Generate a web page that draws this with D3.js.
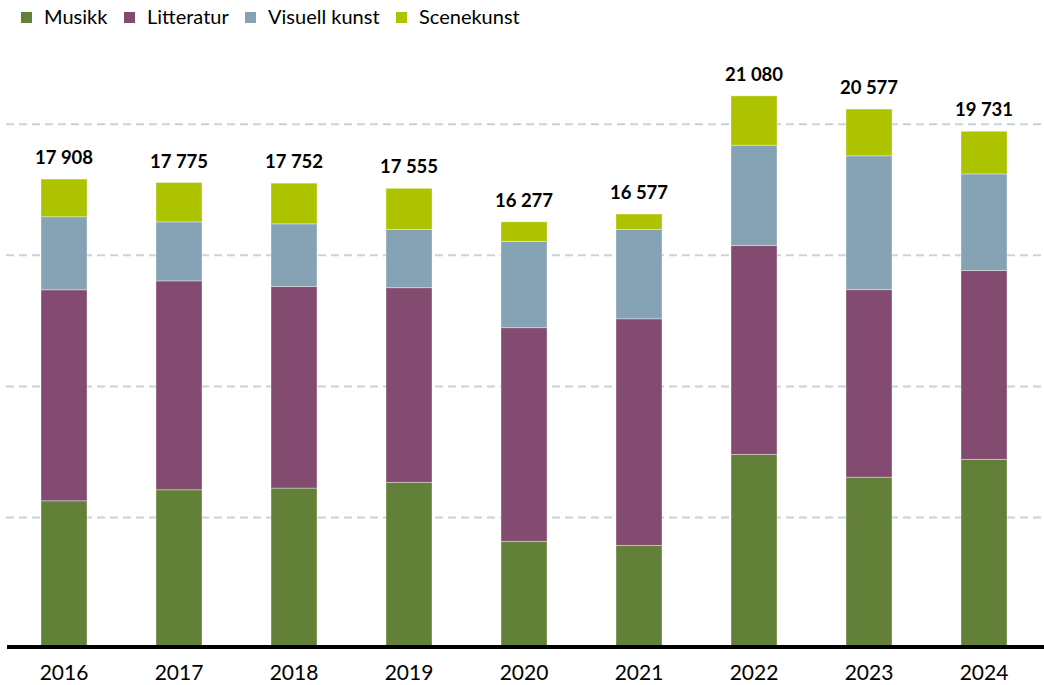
<!DOCTYPE html>
<html>
<head>
<meta charset="utf-8">
<script src="https://cdn.jsdelivr.net/npm/d3@7"></script>
<style>
  html, body { margin: 0; padding: 0; background: #ffffff; }
  svg { display: block; font-family: Lato, "Open Sans", "Liberation Sans", sans-serif; }
</style>
</head>
<body>
<svg id="chart" width="1044" height="685"></svg>
<script>
// Years on the x axis
const years = ["2016", "2017", "2018", "2019", "2020", "2021", "2022", "2023", "2024"];

// Series, one value per year
const musikk      = [5640, 6060, 6125, 6345, 4095, 3940, 7410, 6540, 7220];
const litteratur  = [8045, 7965, 7690, 7420, 8145, 8640, 7965, 7150, 7205];
const visuellKunst = [2785, 2250, 2385, 2225, 3290, 3410, 3825, 5105, 3680];
const scenekunst  = [1438, 1500, 1552, 1565, 747, 587, 1880, 1782, 1626];

const seriesNames = ["Musikk", "Litteratur", "Visuell kunst", "Scenekunst"];
const seriesValues = [musikk, litteratur, visuellKunst, scenekunst];
const seriesColors = ["#628038", "#834b70", "#85a3b4", "#adc300"];

// Dashed reference lines
const gridValues = [5000, 10000, 15000, 20000];

const svg = d3.select("#chart");

const rows = years.map((yr, i) => {
  const row = { year: yr };
  seriesNames.forEach((name, s) => { row[name] = seriesValues[s][i]; });
  return row;
});

const stacked = d3.stack().keys(seriesNames)(rows);

const x = d3.scaleBand()
  .domain(years)
  .range([6.5, 1041.5])
  .paddingInner(0.6)
  .paddingOuter(0.3);

const y = d3.scaleLinear()
  .domain([0, 20000])
  .range([648.7, 124.2]);

// Gridlines
svg.append("g")
  .selectAll("line")
  .data(gridValues)
  .join("line")
  .attr("x1", 6)
  .attr("x2", 1044)
  .attr("y1", d => y(d))
  .attr("y2", d => y(d))
  .attr("stroke", "#c6d4dc")
  .attr("stroke-width", 2)
  .attr("stroke-dasharray", "8 5");

// Stacked bars
svg.append("g")
  .selectAll("g")
  .data(stacked)
  .join("g")
  .attr("fill", (d, i) => seriesColors[i])
  .selectAll("rect")
  .data(d => d)
  .join("rect")
  .attr("x", d => x(d.data.year))
  .attr("width", x.bandwidth())
  .attr("y", d => y(d[1]))
  .attr("height", d => y(d[0]) - y(d[1]))
  .attr("stroke", "rgba(255,255,255,0.45)")
  .attr("stroke-width", 0.8);

// Totals above bars
const fmt = v => d3.format(",")(v).replace(/,/g, " ");
svg.append("g")
  .selectAll("text")
  .data(rows)
  .join("text")
  .attr("x", d => x(d.year) + x.bandwidth() / 2)
  .attr("y", d => y(d3.sum(seriesNames, k => d[k])) - 15)
  .attr("text-anchor", "middle")
  .attr("font-size", 18.5)
  .attr("font-weight", "bold")
  .attr("fill", "#000000")
  .text(d => fmt(d3.sum(seriesNames, k => d[k])));

// Baseline
svg.append("line")
  .attr("x1", 7)
  .attr("x2", 1044)
  .attr("y1", 647)
  .attr("y2", 647)
  .attr("stroke", "#000000")
  .attr("stroke-width", 4);

// Year labels
const xAxis = d3.axisBottom(x).tickSize(0).tickPadding(0);
const axisG = svg.append("g")
  .attr("transform", "translate(0,665)")
  .call(xAxis);
axisG.select(".domain").remove();
axisG.selectAll("text")
  .attr("font-size", 21)
  .attr("font-family", "Lato, 'Open Sans', sans-serif")
  .attr("fill", "#000000")
  .attr("dy", "0.71em");

// Legend
const legendX = [21, 124, 245, 396];
const legend = svg.append("g");
seriesNames.forEach((name, i) => {
  legend.append("rect")
    .attr("x", legendX[i])
    .attr("y", 12)
    .attr("width", 11)
    .attr("height", 11)
    .attr("fill", seriesColors[i]);
  legend.append("text")
    .attr("x", legendX[i] + 23)
    .attr("y", 24)
    .attr("font-size", 20)
    .attr("fill", "#000000")
    .text(name);
});
</script>
</body>
</html>
